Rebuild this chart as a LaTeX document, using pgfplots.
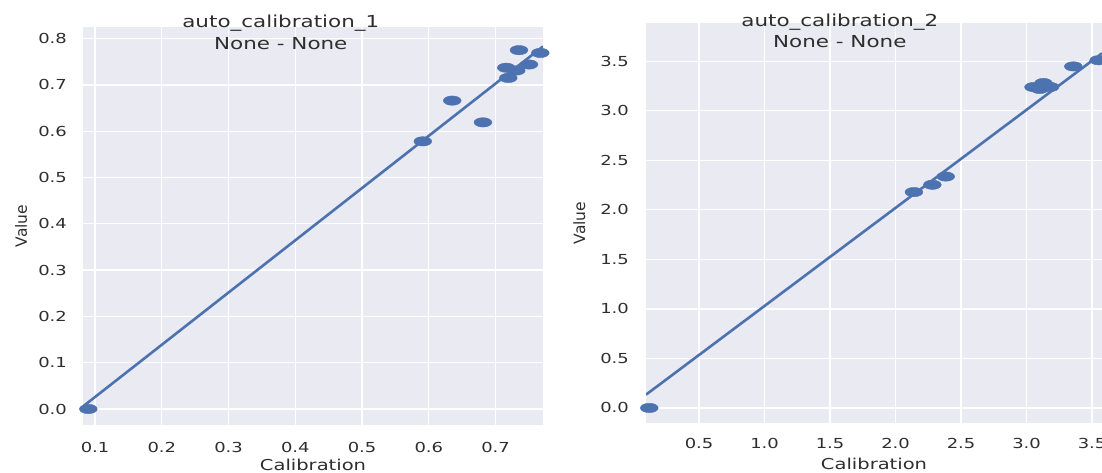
\documentclass[border=0pt]{standalone}
\usepackage{fontspec}
\setmainfont{DejaVu Sans}[FakeStretch=1.3]
\newfontfamily\ylabfont{DejaVu Sans}
\usepackage{pgfplots}
\pgfplotsset{compat=1.18}
\definecolor{sbbg}{HTML}{EAEAF2}
\definecolor{sbblue}{HTML}{4C72B0}
\definecolor{txt}{HTML}{2E2E2E}

\pgfplotsset{
  sbpanel/.style={
    scale only axis,
    anchor=south west,
    axis background/.style={fill=sbbg},
    axis line style={draw=none},
    tick style={draw=none},
    grid=major,
    major grid style={white, line width=1.3pt},
    tick label style={font=\fontsize{13.8}{16}\selectfont, text=txt},
    yticklabel style={anchor=east, inner sep=0pt},
    xticklabel style={anchor=north, inner sep=0pt},
    xlabel style={font=\fontsize{15}{18}\selectfont, text=txt, anchor=base},
    ylabel style={font=\ylabfont\fontsize{15.5}{18}\selectfont, text=txt, anchor=base},
    title style={font=\fontsize{16.5}{21.7}\selectfont, text=txt, align=center,
      anchor=north, inner sep=0pt},
    /pgf/number format/fixed,
    /pgf/number format/fixed zerofill,
    /pgf/number format/precision=1,
    /pgf/number format/assume math mode=true,
    sbpts/.style={color=sbblue, only marks, mark=*, mark size=4.7pt,
      mark options={xscale=1.9, fill=sbblue, draw=none}},
    sbfit/.style={color=sbblue, no markers, line width=2.6pt},
  }
}

\begin{document}
\begin{tikzpicture}
\useasboundingbox (0,0) rectangle (1102pt,473pt);

% left panel
\begin{axis}[
    sbpanel,
    at={(83pt,48pt)},
    width=460pt, height=398pt,
    xmin=0.082, xmax=0.771,
    ymin=-0.0346, ymax=0.825,
    xtick={0.1,0.2,0.3,0.4,0.5,0.6,0.7},
    ytick={0,0.1,0.2,0.3,0.4,0.5,0.6,0.7,0.8},
    yticklabel style={xshift=-16pt},
    xticklabel style={yshift=-17pt},
    title={auto\_calibration\_1\\None - None},
    title style={at={(axis description cs:0.43,1)}, yshift=6.3pt},
    xlabel={Calibration},
    xlabel style={at={(axis description cs:0.5,0)}, yshift=-46pt},
    ylabel={Value},
    ylabel style={at={([xshift=-56pt]axis description cs:0,0.5)}},
]
\addplot[sbpts] coordinates {
    (0.090, 0.000) (0.591, 0.578) (0.635, 0.666) (0.681, 0.619)
    (0.716, 0.737) (0.719, 0.715) (0.731, 0.731) (0.735, 0.775)
    (0.750, 0.744) (0.767, 0.769)
};
\addplot[sbfit] coordinates {(0.082, 0.0055) (0.771, 0.783)};
\end{axis}

% right panel
\begin{axis}[
    sbpanel,
    at={(646pt,50pt)},
    width=456pt, height=400pt,
    xmin=0.095, xmax=3.576,
    ymin=-0.152, ymax=3.886,
    xtick={0.5,1.0,1.5,2.0,2.5,3.0,3.5},
    ytick={0,0.5,1.0,1.5,2.0,2.5,3.0,3.5},
    yticklabel style={xshift=-17pt},
    xticklabel style={yshift=-15pt},
    title={auto\_calibration\_2\\None - None},
    title style={at={(axis description cs:0.425,1)}, yshift=3.7pt},
    xlabel={Calibration},
    xlabel style={at={(axis description cs:0.5,0)}, yshift=-47pt},
    ylabel={Value},
    ylabel style={at={([xshift=-61pt]axis description cs:0,0.5)}},
]
\addplot[sbpts] coordinates {
    (0.120, 0.000) (2.140, 2.179) (2.281, 2.253) (2.383, 2.336)
    (3.053, 3.239) (3.100, 3.220) (3.129, 3.280) (3.180, 3.240)
    (3.357, 3.448) (3.550, 3.510)
};
\addplot[sbfit] coordinates {(0.095, 0.134) (3.576, 3.580)};
\end{axis}
\end{tikzpicture}
\end{document}
